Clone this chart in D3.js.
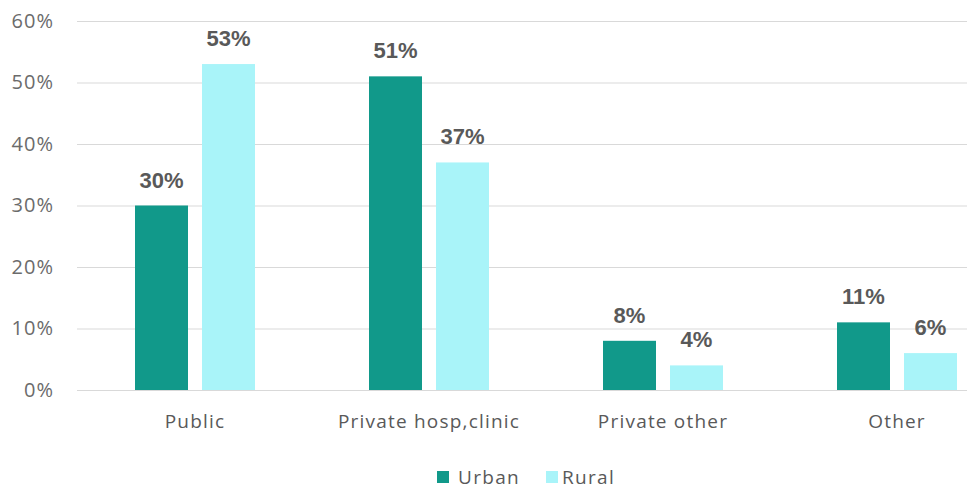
<!DOCTYPE html>
<html>
<head>
<meta charset="utf-8">
<script src="https://cdn.jsdelivr.net/npm/d3@7"></script>
<style>
  html, body { margin: 0; padding: 0; background: #fff; }
  svg { display: block; }
</style>
</head>
<body>
<svg id="chart" width="967" height="490"></svg>
<script>
// Share of care sought by provider type, urban vs rural
const categories = ["Public", "Private hosp,clinic", "Private other", "Other"];
const seriesNames = ["Urban", "Rural"];
const urbanValues = [30, 51, 8, 11];
const ruralValues = [53, 37, 4, 6];
const yTicks = [0, 10, 20, 30, 40, 50, 60];

const colors = { Urban: "#11998a", Rural: "#a9f4f9" };

const svg = d3.select("#chart");
const W = 967, H = 490;
const left = 77;

const y = d3.scaleLinear().domain([0, 60]).range([390, 21]);
const x0 = d3.scaleBand().domain(categories).range([78, 1014]).padding(0);
const groupWidth = 120;
const x1 = d3.scaleBand().domain(seriesNames).range([0, groupWidth]).paddingInner(14 / 67).paddingOuter(0);

// gridlines + y tick labels
const yAxis = d3.axisLeft(y).tickValues(yTicks).tickSize(-(W - left)).tickFormat(d => d + "%");
const gy = svg.append("g").attr("transform", `translate(${left},0)`).call(yAxis);
gy.select(".domain").remove();
gy.selectAll(".tick line").attr("stroke", "#d9d9d9").attr("stroke-width", 1);
gy.selectAll(".tick text")
  .attr("x", -23)
  .attr("fill", "#6b6b6b")
  .style("font-family", "'Open Sans', sans-serif")
  .style("font-size", "20px")
  .style("letter-spacing", "1px");

// x category labels
const xAxis = d3.axisBottom(x0).tickSize(0);
const gx = svg.append("g").attr("transform", "translate(0,390)").call(xAxis);
gx.select(".domain").remove();
gx.selectAll(".tick text")
  .attr("dy", "0")
  .attr("y", 38)
  .attr("fill", "#595959")
  .style("font-family", "'Open Sans', sans-serif")
  .style("font-size", "19px")
  .style("letter-spacing", "1.2px");

const rows = categories.map((c, i) => ({ category: c, Urban: urbanValues[i], Rural: ruralValues[i] }));

const groups = svg.append("g").selectAll("g")
  .data(rows).join("g")
  .attr("transform", d => `translate(${x0(d.category) + x0.bandwidth() / 2 - groupWidth / 2},0)`);

groups.selectAll("rect")
  .data(d => seriesNames.map(s => ({ key: s, value: d[s] })))
  .join("rect")
  .attr("x", d => x1(d.key))
  .attr("width", x1.bandwidth())
  .attr("y", d => y(d.value))
  .attr("height", d => y(0) - y(d.value))
  .attr("fill", d => colors[d.key]);

groups.selectAll("text.val")
  .data(d => seriesNames.map(s => ({ key: s, value: d[s] })))
  .join("text")
  .attr("class", "val")
  .attr("x", d => x1(d.key) + x1.bandwidth() / 2)
  .attr("y", d => y(d.value) - 18)
  .attr("text-anchor", "middle")
  .attr("fill", "#595959")
  .style("font-family", "'Liberation Sans', Arial, sans-serif")
  .style("font-weight", "bold")
  .style("font-size", "22px")
  .text(d => d.value + "%");

// legend
const legend = svg.append("g").attr("transform", "translate(437,471)");
const legendItems = [
  { key: "Urban", x: 0, textX: 21 },
  { key: "Rural", x: 109, textX: 16 }
];
legendItems.forEach(it => {
  const g = legend.append("g").attr("transform", `translate(${it.x},0)`);
  g.append("rect").attr("width", 12).attr("height", 12).attr("fill", colors[it.key]);
  g.append("text")
    .attr("x", it.textX).attr("y", 12.5)
    .attr("fill", "#595959")
    .style("font-family", "'Open Sans', sans-serif")
    .style("font-size", "19px")
    .style("letter-spacing", "1.3px")
    .text(it.key);
});
</script>
</body>
</html>
